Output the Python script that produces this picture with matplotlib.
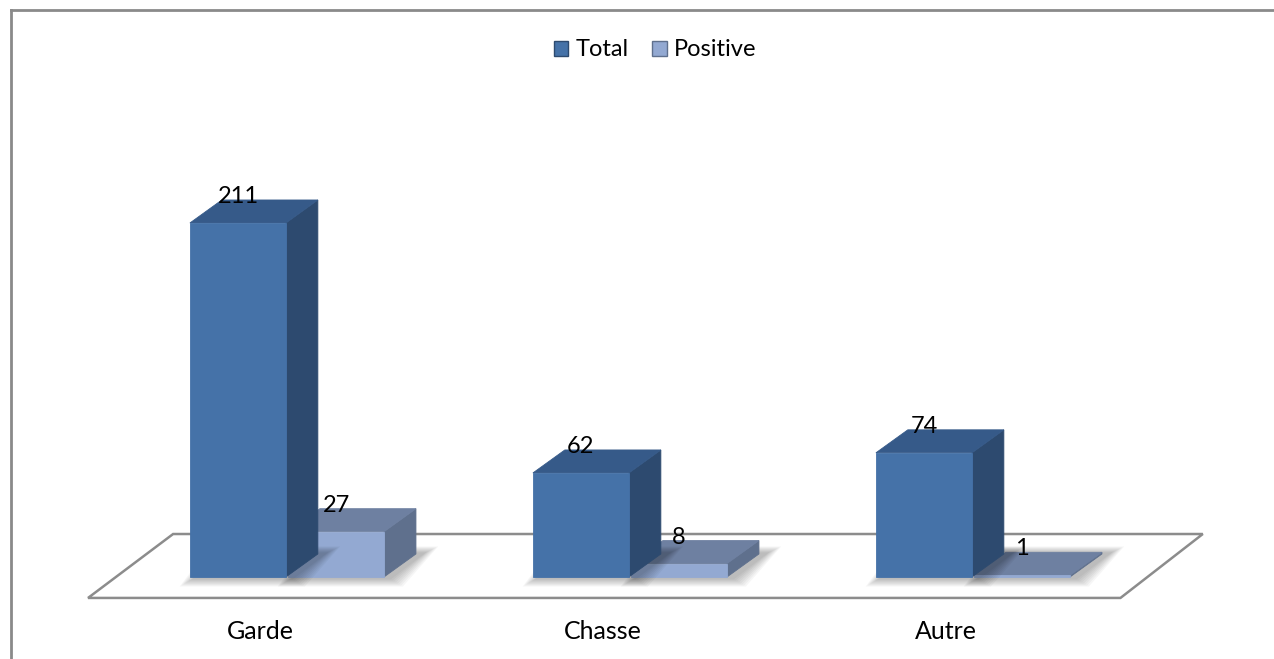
import matplotlib
matplotlib.use("Agg")
import matplotlib.pyplot as plt
from matplotlib.patches import Polygon, Rectangle
from matplotlib.lines import Line2D

categories = ["Garde", "Chasse", "Autre"]
series_names = ["Total", "Positive"]
total = [211, 62, 74]
positive = [27, 8, 1]

plt.rcParams["font.family"] = ["Lato", "DejaVu Sans"]

W, H = 1274, 659
fig = plt.figure(figsize=(W / 100, H / 100), dpi=100)
ax = fig.add_axes([0, 0, 1, 1])
ax.set_xlim(-0.8367, 2.8776)
ax.set_ylim(-48.9, 343.9)
ax.axis("off")

# bar geometry (category units / value units)
bar_w = 0.28
gap = 0.006
dx, dy = 0.093, 13.7

colors = {
    "Total": dict(front="#4572a8", side="#2d4a6f", top="#365a89"),
    "Positive": dict(front="#93a9d2", side="#5f708d", top="#6e80a1"),
}

# floor of the 3-D plot area
floor = Polygon([(-0.58, -12.5), (2.43, -12.5), (2.67, 25.6), (-0.332, 25.6)],
                closed=True, facecolor="white", edgecolor="#8c8c8c", lw=1.8, zorder=1)
ax.add_patch(floor)


def draw_bar(x0, v, c, z):
    x1 = x0 + bar_w
    # soft shadow on the floor
    for k in range(8):
        s = 0.005 * k
        sh = Polygon([(x0 + 0.005 - s, -1.5 - 0.6 * k), (x1 + 0.02 + s, -1.5 - 0.6 * k),
                      (x1 + dx + 0.03 + s, dy + 1 + 0.5 * k), (x0 + dx - s, dy + 1 + 0.5 * k)],
                     closed=True, facecolor="#000000", alpha=0.035, lw=0, zorder=z - 0.5)
        ax.add_patch(sh)
    front = Rectangle((x0, 0), bar_w, v, facecolor=c["front"], edgecolor=c["front"],
                      lw=0.6, zorder=z + 0.2)
    side = Polygon([(x1, 0), (x1 + dx, dy), (x1 + dx, v + dy), (x1, v)], closed=True,
                   facecolor=c["side"], edgecolor=c["side"], lw=0.6, zorder=z)
    top = Polygon([(x0, v), (x1, v), (x1 + dx, v + dy), (x0 + dx, v + dy)], closed=True,
                  facecolor=c["top"], edgecolor=c["top"], lw=0.6, zorder=z + 0.1)
    for p in (side, top, front):
        ax.add_patch(p)


for i, cat in enumerate(categories):
    xt = i - bar_w - gap / 2
    xp = i + gap / 2
    draw_bar(xp, positive[i], colors["Positive"], 3)
    draw_bar(xt, total[i], colors["Total"], 5)
    ax.text(xt + bar_w / 2, total[i] + dy + 2, str(total[i]), ha="center", va="center",
            fontsize=17, color="black", zorder=10)
    ax.text(xp + bar_w / 2, positive[i] + dy + 2, str(positive[i]), ha="center",
            va="center", fontsize=17, color="black", zorder=10)
    ax.text(i - 0.078, -32.8, cat, ha="center", va="center", fontsize=18, color="black")

# legend
handles = [Rectangle((0, 0), 1, 1, facecolor=colors[n]["front"], edgecolor=colors[n]["side"],
                     lw=1) for n in series_names]
fig.legend(handles, series_names, loc="center", bbox_to_anchor=(655 / W, 1 - 50 / H),
           ncol=2, frameon=False, fontsize=17, handlelength=0.62, handleheight=0.62,
           handletextpad=0.3, columnspacing=1.0)

# chart area border (left and top edges)
fig.add_artist(Line2D([11 / W, 11 / W], [0, 1 - 10 / H], transform=fig.transFigure,
                      color="#8a8a8a", lw=2))
fig.add_artist(Line2D([11 / W, 1], [1 - 10 / H, 1 - 10 / H], transform=fig.transFigure,
                      color="#8a8a8a", lw=2))

fig.savefig("out.png", dpi=100)
